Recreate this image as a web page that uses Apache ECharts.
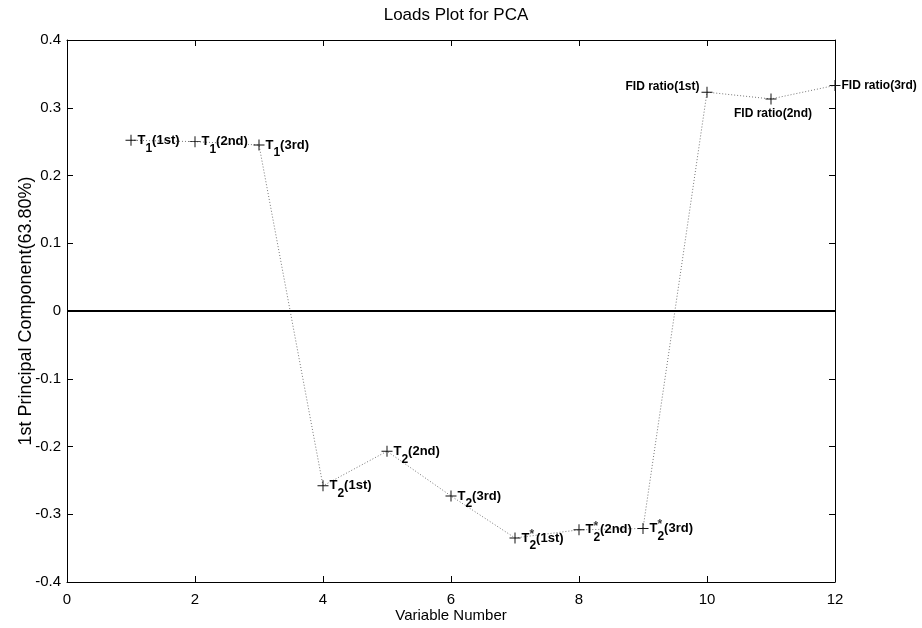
<!DOCTYPE html>
<html>
<head>
<meta charset="utf-8">
<script src="https://cdn.jsdelivr.net/npm/echarts@6/dist/echarts.min.js"></script>
<style>
html,body{margin:0;padding:0;background:#fff;}
#chart{width:922px;height:628px;}
</style>
</head>
<body>
<div id="chart"></div>
<script>
// ---- data ----
const chartTitle = 'Loads Plot for PCA';
const xAxisName = 'Variable Number';
const yAxisName = '1st Principal Component(63.80%)';
const variableNumbers = [1, 2, 3, 4, 5, 6, 7, 8, 9, 10, 11, 12];
const loadings = [0.252, 0.250, 0.245, -0.258, -0.207, -0.273, -0.335, -0.323, -0.321, 0.323, 0.313, 0.333];
const pointLabels = ['T_1(1st)', 'T_1(2nd)', 'T_1(3rd)', 'T_2(1st)', 'T_2(2nd)', 'T_2(3rd)',
  'T_2^*(1st)', 'T_2^*(2nd)', 'T_2^*(3rd)', 'FID ratio(1st)', 'FID ratio(2nd)', 'FID ratio(3rd)'];
const xTicks = [0, 2, 4, 6, 8, 10, 12];
const yTicks = [-0.4, -0.3, -0.2, -0.1, 0, 0.1, 0.2, 0.3, 0.4];

// ---- build ----
const FONT = 'Liberation Sans, Arial, sans-serif';
function parseLabel(s) {
  const m = s.match(/^([^_]+)_([^\^(]+)(\^([^(]+))?(\(.*\))$/);
  if (!m) return { base: s, sub: '', sup: '', tail: '' };
  return { base: m[1], sub: m[2], sup: m[4] || '', tail: m[5] };
}
function placement(i, hasSub) {
  if (i === 9) return { position: 'left', distance: 2, offset: [0, -5] };
  if (i === 10) return { position: 'bottom', distance: 3, offset: [2, 0] };
  if (i === 11) return { position: 'right', distance: 1, offset: [0, 0] };
  return { position: 'right', distance: 1, offset: [0, hasSub ? 4 : 0] };
}
const richStyles = {
  t: { fontSize: 13, fontWeight: 'bold', fontFamily: FONT, color: '#000', padding: [0, 0, 8, 0] },
  s: { fontSize: 12, fontWeight: 'bold', fontFamily: FONT, color: '#000', padding: [8, 0, 0, 0] },
  f: { fontSize: 12, fontWeight: 'bold', fontFamily: FONT, color: '#000' },
  g: { fontSize: 13, fontWeight: 'bold', fontFamily: FONT, color: 'rgba(0,0,0,0)', padding: [0, 0, 8, 0] },
  p: { fontSize: 12, fontWeight: 'bold', fontFamily: FONT, color: '#000', padding: [0, 0, 15, 0] }
};
const mainData = [];
const supData = [];
variableNumbers.forEach((x, i) => {
  const p = parseLabel(pointLabels[i]);
  const hasSub = !!p.sub;
  const txt = hasSub ? '{t|' + p.base + '}{s|' + p.sub + '}{t|' + p.tail + '}' : '{f|' + p.base + '}';
  const pl = placement(i, hasSub);
  mainData.push({
    value: [x, loadings[i]],
    label: { show: true, formatter: txt, position: pl.position, distance: pl.distance, offset: pl.offset, rich: richStyles }
  });
  if (p.sup) {
    supData.push({
      value: [x, loadings[i]],
      label: { show: true, formatter: '{g|' + p.base + '}{p|' + p.sup + '}', position: pl.position, distance: pl.distance, offset: pl.offset, rich: richStyles }
    });
  }
});

const plusSymbol = 'path://M0,4.55H10V5.45H0Z M4.55,0H5.45V10H4.55Z';
const axisFont = { fontFamily: FONT, fontSize: 15, color: '#000' };
const option = {
  animation: false,
  backgroundColor: '#fff',
  title: {
    text: chartTitle, left: 451, top: 2, textAlign: 'center',
    textStyle: { fontFamily: FONT, fontSize: 17, fontWeight: 'normal', color: '#000' }
  },
  grid: { left: 67, right: 87, top: 40, bottom: 46 },
  xAxis: [{
    type: 'value', min: xTicks[0], max: xTicks[xTicks.length - 1], interval: 2,
    name: xAxisName, nameLocation: 'middle', nameGap: 26, nameMoveOverlap: false,
    nameTextStyle: { fontFamily: FONT, fontSize: 15, color: '#000' },
    axisLine: { onZero: false, lineStyle: { color: '#000', width: 1 } },
    axisTick: { inside: true, length: 6, lineStyle: { color: '#000' } },
    axisLabel: Object.assign({ margin: 10 }, axisFont),
    splitLine: { show: false }
  }, {
    type: 'value', position: 'top', min: xTicks[0], max: xTicks[xTicks.length - 1], interval: 2,
    axisLine: { onZero: false, lineStyle: { color: '#000', width: 1 } },
    axisTick: { inside: true, length: 6, lineStyle: { color: '#000' } },
    axisLabel: { show: false }, splitLine: { show: false }
  }],
  yAxis: [{
    type: 'value', min: yTicks[0], max: yTicks[yTicks.length - 1], interval: 0.1,
    name: yAxisName, nameLocation: 'middle', nameRotate: 90, nameGap: 32, nameMoveOverlap: false,
    nameTextStyle: { fontFamily: FONT, fontSize: 18, color: '#000' },
    axisLine: { onZero: false, lineStyle: { color: '#000', width: 1 } },
    axisTick: { inside: true, length: 6, lineStyle: { color: '#000' } },
    axisLabel: Object.assign({ margin: 6, formatter: v => (Math.abs(v) < 1e-9 ? '0' : v.toFixed(1)) }, axisFont),
    splitLine: { show: false }
  }, {
    type: 'value', position: 'right', min: yTicks[0], max: yTicks[yTicks.length - 1], interval: 0.1,
    axisLine: { onZero: false, lineStyle: { color: '#000', width: 1 } },
    axisTick: { inside: true, length: 6, lineStyle: { color: '#000' } },
    axisLabel: { show: false }, splitLine: { show: false }
  }],
  series: [{
    type: 'line',
    data: mainData,
    symbol: plusSymbol, symbolSize: 11,
    itemStyle: { color: '#111' },
    lineStyle: { color: '#777', width: 1, type: [1, 2] },
    markLine: {
      silent: true, symbol: ['none', 'none'], label: { show: false },
      lineStyle: { color: '#000', width: 2, type: 'solid' },
      data: [{ yAxis: 0 }]
    },
    z: 3
  }, {
    type: 'scatter',
    data: supData,
    symbol: plusSymbol, symbolSize: 11,
    itemStyle: { color: 'rgba(0,0,0,0)' },
    z: 4
  }]
};
const chart = echarts.init(document.getElementById('chart'), null, { renderer: 'canvas' });
chart.setOption(option);
</script>
</body>
</html>
